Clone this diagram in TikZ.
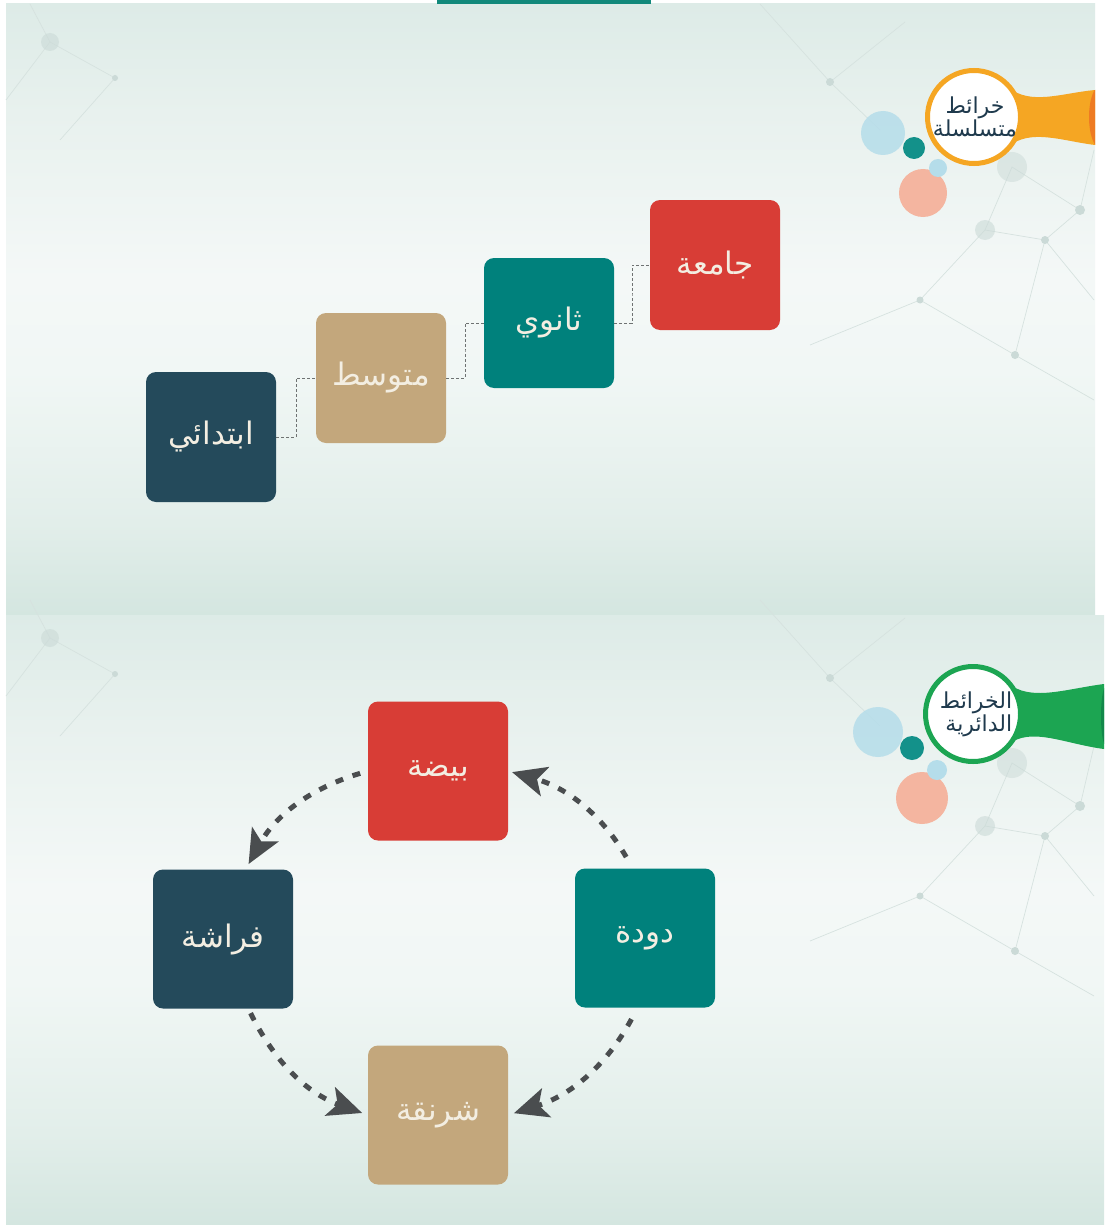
\documentclass[tikz,border=0pt]{standalone}
\usepackage{fontspec}
\newfontfamily\arabicfont[Script=Arabic]{DejaVu Sans}
\TeXXeTstate=1
\usetikzlibrary{arrows.meta,calc}

\definecolor{navybox}{HTML}{244A5B}
\definecolor{tanbox}{HTML}{C3A77C}
\definecolor{tealbox}{HTML}{00817C}
\definecolor{redbox}{HTML}{D83D36}
\definecolor{boxtext}{HTML}{F3EEE2}
\definecolor{arrowgrey}{HTML}{4A4D4F}
\definecolor{linkgrey}{HTML}{6E7272}
\definecolor{netline}{HTML}{D6E2DF}
\definecolor{netdot}{HTML}{CBDAD7}
\definecolor{ringorange}{HTML}{F5A623}
\definecolor{deeporange}{HTML}{EE7B22}
\definecolor{ringgreen}{HTML}{1CA552}
\definecolor{deepgreen}{HTML}{12884A}
\definecolor{labelnavy}{HTML}{1F3A4D}
\definecolor{dotblue}{HTML}{B5DDEA}
\definecolor{dotteal}{HTML}{13918A}
\definecolor{dotsalmon}{HTML}{F4B5A0}
\definecolor{tabteal}{HTML}{11897B}

% soft mint panel background, brighter across the middle
% (the filled path spans 25bp..75bp of the shading, bottom to top)
\pgfdeclareverticalshading{panelshade}{100bp}{
  color(0bp)=(rgb,255:red,212;green,230;blue,224);
  color(25bp)=(rgb,255:red,212;green,230;blue,224);
  color(32.5bp)=(rgb,255:red,226;green,238;blue,234);
  color(45bp)=(rgb,255:red,241;green,247;blue,245);
  color(52.5bp)=(rgb,255:red,244;green,248;blue,247);
  color(66bp)=(rgb,255:red,232;green,241;blue,238);
  color(75bp)=(rgb,255:red,221;green,235;blue,231);
  color(100bp)=(rgb,255:red,221;green,235;blue,231)}

\begin{document}
\begin{tikzpicture}[x=1pt,y=-1pt,
  stagebox/.style={rounded corners=10pt, minimum width=130pt, minimum height=130pt,
    inner sep=0pt, text=boxtext, font=\arabicfont\fontsize{31}{36}\selectfont},
  cyclebox/.style={stagebox, minimum width=140pt, minimum height=139pt},
  steplink/.style={draw=linkgrey, line width=0.8pt, dash pattern=on 3pt off 2pt},
  cyclearrow/.style={draw=arrowgrey, line width=5pt, dash pattern=on 8pt off 10pt,
    -{Stealth[length=34pt,width=30pt,inset=8pt]}},
  netl/.style={draw=netline, line width=0.7pt},
  netd/.style={fill=netdot},
  bubbletext/.style={font=\arabicfont\fontsize{22}{23}\selectfont, text=labelnavy}
]
\useasboundingbox (0,0) rectangle (1104,1225);
\fill[white] (0,0) rectangle (1104,1225);

% ---------- panel backgrounds ----------
\shade[shading=panelshade] (6,4) rectangle (1095,615);
\shade[shading=panelshade] (6,615) rectangle (1104,1225);
\fill[tabteal] (437,0) rectangle (651,4);

% ---------- faint network in the backgrounds ----------
\foreach \dy in {0,596}{
  \begin{scope}[yshift=-\dy pt]
    \draw[netl] (6,100) -- (50,42) -- (115,78) -- (60,140);
    \draw[netl] (50,42) -- (30,4);
    \draw[netl] (760,4) -- (830,82) -- (905,22);
    \draw[netl] (830,82) -- (880,130);
    \draw[netl] (1012,167) -- (1080,210) -- (1045,240) -- (985,230) -- cycle;
    \draw[netl] (985,230) -- (920,300) -- (1015,355) -- (1045,240);
    \draw[netl] (1080,210) -- (1094,150);
    \draw[netl] (1045,240) -- (1094,300);
    \draw[netl] (920,300) -- (810,345);
    \draw[netl] (1015,355) -- (1094,400);
    \fill[netd, opacity=0.6] (50,42) circle (9);
    \fill[netd, opacity=0.5] (1012,167) circle (15);
    \fill[netd, opacity=0.6] (985,230) circle (10);
    \fill[netd] (1045,240) circle (4);
    \fill[netd] (1080,210) circle (5);
    \fill[netd] (1015,355) circle (4);
    \fill[netd] (830,82) circle (4);
    \fill[netd] (920,300) circle (3.5);
    \fill[netd] (115,78) circle (3);
  \end{scope}
}

% ---------- sequence map ----------
\node[stagebox, fill=navybox] (ibt) at (211,437) {\beginR ابتدائي\endR};
\node[stagebox, fill=tanbox]  (mut) at (381,378) {\beginR متوسط\endR};
\node[stagebox, fill=tealbox] (than) at (549,323) {\beginR ثانوي\endR};
\node[stagebox, fill=redbox]  (jam) at (715,265) {\beginR جامعة\endR};

\draw[steplink] (ibt.east) -| ($(ibt.east)!.5!(mut.west)$) |- (mut.west);
\draw[steplink] (mut.east) -| ($(mut.east)!.5!(than.west)$) |- (than.west);
\draw[steplink] (than.east) -| ($(than.east)!.5!(jam.west)$) |- (jam.west);

% ---------- title bubble: sequence map ----------
\begin{scope}
  \clip (6,4) rectangle (1095,615);
  \fill[ringorange] (1008,87) .. controls (1030,106) and (1062,93) .. (1095,90)
    -- (1095,145) .. controls (1062,141) and (1030,128) .. (1008,147) -- cycle;
  \begin{scope}
    \clip (1008,87) .. controls (1030,106) and (1062,93) .. (1095,90)
      -- (1095,145) .. controls (1062,141) and (1030,128) .. (1008,147) -- cycle;
    \fill[deeporange] (1101,117) ellipse (12 and 32);
  \end{scope}
\end{scope}
\fill[dotblue, opacity=0.85] (883,133) circle (22);
\fill[dotsalmon] (923,193) circle (24);
\fill[dotblue] (938,168) circle (9);
\fill[dotteal] (914,148) circle (11);
\draw[ringorange, line width=5pt, fill=white] (974,117) circle (46.5);
\node[bubbletext, align=center] (seqlabel) at (975,117)
  {\beginR خرائط\endR\\\beginR متسلسلة\endR};

% ---------- cycle map ----------
\node[cyclebox, fill=redbox]  (egg)    at (438,771)  {\beginR بيضة\endR};
\node[cyclebox, fill=navybox] (fly)    at (223,939)  {\beginR فراشة\endR};
\node[cyclebox, fill=tealbox] (worm)   at (645,938)  {\beginR دودة\endR};
\node[cyclebox, fill=tanbox]  (cocoon) at (438,1115) {\beginR شرنقة\endR};

\draw[cyclearrow, shorten <=8pt, shorten >=6pt] (egg.west) to[bend right=22] (fly.72);
\draw[cyclearrow, shorten <=5pt, shorten >=6pt] (fly.290) to[bend right=22] (cocoon.west);
\draw[cyclearrow, shorten <=13pt, shorten >=6pt] (worm.264) to[bend left=22] (cocoon.east);
\draw[cyclearrow, shorten <=13pt, shorten >=4pt] (worm.100) to[bend right=22] (egg.east);

% ---------- title bubble: cycle map ----------
\begin{scope}
  \clip (6,615) rectangle (1104,1225);
  \fill[ringgreen] (1008,683) .. controls (1030,702) and (1065,689) .. (1104,684)
    -- (1104,749) .. controls (1065,744) and (1030,726) .. (1008,745) -- cycle;
  \fill[deepgreen] (1106,716) ellipse (5 and 30);
\end{scope}
\fill[dotblue, opacity=0.85] (878,732) circle (25);
\fill[dotsalmon] (922,798) circle (26);
\fill[dotblue] (937,770) circle (10);
\fill[dotteal] (912,748) circle (12);
\draw[ringgreen, line width=5pt, fill=white] (973,714) circle (47.5);
\node[bubbletext, align=right] (cyclabel) at (976,714)
  {\beginR الخرائط\endR\\\beginR الدائرية\endR};
\end{tikzpicture}
\end{document}
